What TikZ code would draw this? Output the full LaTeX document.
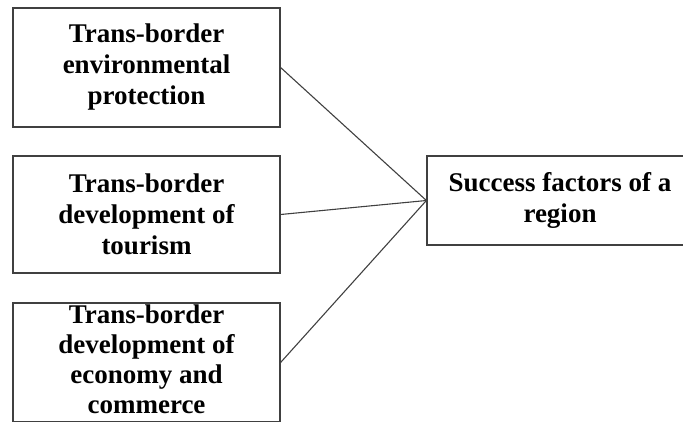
\documentclass[tikz,border=0pt]{standalone}
\usepackage{fontspec}
\setmainfont{Liberation Serif}

\begin{document}
\begin{tikzpicture}[x=1pt, y=-1pt,
    factor/.style={draw=black!75, line width=1.2pt, minimum width=267pt, align=center, font=\bfseries\fontsize{27}{31}\selectfont},
    link/.style={draw=black!75, line width=1.1pt}]

    \useasboundingbox (0,0) rectangle (683,421);

    \node[factor, minimum height=119pt] (envir) at (146.5, 67.5) {Trans-border\\ environmental\\ protection};
    \node[factor, minimum height=117pt] (tourism) at (146.5, 214.5) {Trans-border\\ development of\\ tourism};
    \node[factor, minimum height=119pt, inner ysep=0pt, text depth=6pt, font=\bfseries\fontsize{27}{30}\selectfont] (economy) at (146.5, 362.5) {Trans-border\\ development of\\ economy and\\ commerce};

    \node[factor, minimum height=89pt, minimum width=266pt] (success) at (560, 200.5) {Success factors of a\\ region};

    \draw[link] (envir.east) -- (success.west); % environment
    \draw[link] (tourism.east) -- (success.west); % tourism
    \draw[link] (economy.east) -- (success.west); % economy and commerce

\end{tikzpicture}
\end{document}
